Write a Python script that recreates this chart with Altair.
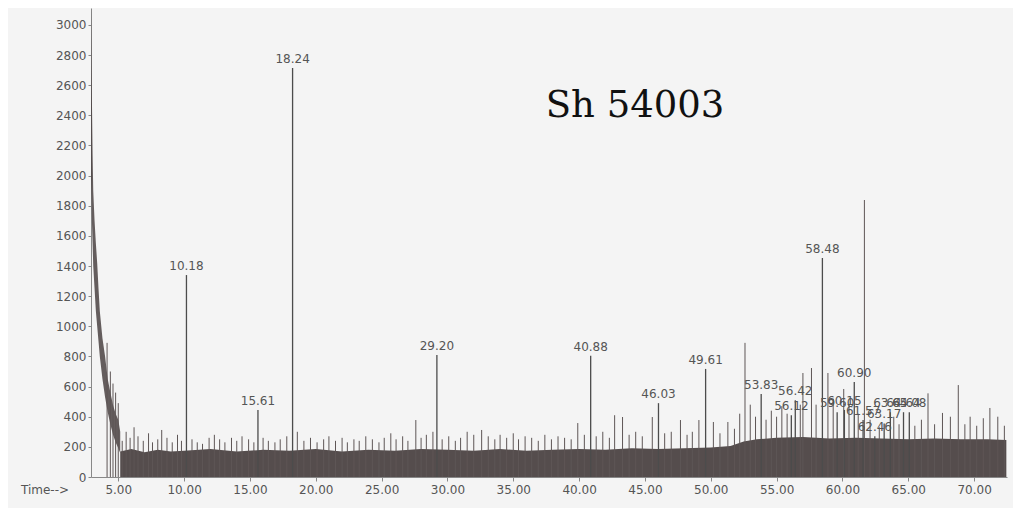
import altair as alt
import pandas as pd

# Labelled peaks (retention time, abundance)
peak_t = [10.18, 15.61, 18.24, 29.20, 40.88, 46.03, 49.61, 53.83, 56.12, 56.42,
          58.48, 59.60, 60.15, 60.90, 61.57, 62.46, 63.17, 63.64, 64.64, 65.08]
peak_h = [1340, 445, 2714, 810, 805, 490, 717, 550, 410, 510,
          1453, 430, 445, 630, 378, 270, 355, 430, 430, 430]
peak_lbl = ["10.18", "15.61", "18.24", "29.20", "40.88", "46.03", "49.61", "53.83", "56.12", "56.42",
            "58.48", "59.60", "60.15", "60.90", "61.57", "62.46", "63.17", "63.64", "64.64", "65.08"]

# Unlabelled spikes (estimated)
spike_t = [4.15, 4.4, 4.6, 4.8, 5.0, 5.3, 5.6, 5.9, 6.2, 6.5, 6.9, 7.3, 7.6, 8.0, 8.3, 8.7, 9.1, 9.5, 9.8,
           10.6, 11.0, 11.4, 11.9, 12.3, 12.7, 13.1, 13.6, 14.0, 14.4, 14.9, 15.3, 16.0, 16.4, 16.9,
           17.3, 17.8, 18.6, 19.1, 19.6, 20.1, 20.6, 21.0, 21.5, 22.0, 22.4, 22.9, 23.3, 23.8, 24.3,
           24.8, 25.2, 25.7, 26.1, 26.6, 27.0, 27.6, 28.0, 28.4, 28.9, 29.6, 30.1, 30.6, 31.0, 31.5,
           32.0, 32.6, 33.1, 33.6, 34.0, 34.5, 35.0, 35.4, 35.9, 36.4, 36.9, 37.4, 37.9, 38.4, 38.9,
           39.4, 39.9, 40.4, 41.3, 41.8, 42.3, 42.7, 43.3, 43.8, 44.3, 44.8, 45.56, 46.5, 47.0, 47.7,
           48.2, 48.6, 49.1, 50.2, 50.7, 51.3, 51.8, 52.2, 52.6, 53.0, 53.4, 54.2, 54.6, 55.0, 55.4,
           55.8, 56.8, 57.0, 57.65, 58.0, 58.9, 59.3, 60.1, 60.5, 61.2, 61.67, 62.1, 62.8, 63.9, 64.3,
           65.5, 66.0, 66.5, 67.0, 67.6, 68.2, 68.8, 69.3, 69.7, 70.2, 70.7, 71.2, 71.8, 72.3]
spike_h = [890, 700, 620, 560, 490, 240, 300, 260, 330, 270, 240, 290, 230, 250, 312, 260, 230, 280, 240,
           250, 230, 220, 260, 280, 250, 230, 260, 240, 270, 250, 230, 260, 240, 230,
           250, 270, 300, 240, 260, 230, 250, 270, 240, 260, 230, 250, 240, 270, 250,
           230, 260, 290, 250, 270, 240, 378, 260, 280, 300, 250, 270, 240, 260, 300,
           280, 312, 270, 250, 280, 260, 290, 250, 270, 260, 240, 280, 250, 270, 260,
           250, 358, 280, 270, 300, 260, 410, 398, 280, 300, 270, 398, 290, 300, 378,
           280, 300, 378, 365, 290, 365, 320, 420, 890, 480, 400, 380, 440, 400, 470,
           420, 480, 690, 723, 480, 690, 520, 584, 480, 420, 1838, 380, 330, 400, 350,
           340, 380, 555, 350, 425, 400, 610, 350, 400, 340, 390, 458, 400, 340]

# Dense noise band (upper envelope)
band_t = [5.15, 6.0, 7.0, 8.0, 9.0, 10.0, 12.0, 14.0, 16.0, 18.0, 20.0, 22.0, 24.0, 26.0, 28.0,
          30.0, 32.0, 34.0, 36.0, 38.0, 40.0, 42.0, 44.0, 46.0, 48.0, 50.0,
          51.5, 52.5, 53.5, 55.0, 57.0, 59.0, 61.0, 63.0, 65.0, 67.0, 69.0, 71.0, 72.45]
band_h = [170, 185, 165, 180, 170, 175, 185, 170, 180, 175, 185, 170, 180, 175, 185,
          180, 175, 185, 175, 180, 185, 180, 190, 185, 190, 195,
          205, 235, 250, 260, 265, 255, 260, 255, 250, 255, 250, 250, 245]

# Solvent front decay (lower / upper edge of the trace)
decay_t = [2.93, 3.0, 3.05, 3.1, 3.2, 3.3, 3.4, 3.5, 3.6, 3.8, 4.0, 4.2, 4.4, 4.6, 4.8, 5.0, 5.15]
decay_lo = [2000, 1700, 1550, 1400, 1250, 1100, 1000, 900, 800, 650, 530, 430, 350, 280, 230, 190, 160]
decay_hi = [3112, 2500, 2150, 1900, 1700, 1550, 1420, 1250, 1100, 920, 800, 650, 560, 480, 420, 380, 300]

peaks = pd.DataFrame({"t": peak_t, "h": peak_h, "lbl": peak_lbl})
spikes = pd.DataFrame({"t": spike_t, "h": spike_h})
band = pd.DataFrame({"t": band_t, "h": band_h})
decay = pd.DataFrame({"t": decay_t, "lo": decay_lo, "hi": decay_hi})

FONT = "DejaVu Sans"
x_scale = alt.Scale(domain=[2.93, 72.5], nice=False, zero=False)
y_scale = alt.Scale(domain=[0, 3112], nice=False)

x_axis = alt.Axis(values=[5, 10, 15, 20, 25, 30, 35, 40, 45, 50, 55, 60, 65, 70],
                  format=".2f", tickSize=4, labelPadding=3, title=None)
y_axis = alt.Axis(values=[0, 200, 400, 600, 800, 1000, 1200, 1400, 1600, 1800, 2000,
                          2200, 2400, 2600, 2800, 3000],
                  format="d", tickSize=3, labelPadding=2, title=None)


def X():
    return alt.X("t:Q", scale=x_scale, axis=x_axis)


def Y(field):
    return alt.Y(field, type="quantitative", scale=y_scale, axis=y_axis)


band_layer = alt.Chart(band).mark_area(color="#463e3e", opacity=0.92).encode(
    x=X(), y=Y("h"),
)

decay_layer = alt.Chart(decay).mark_area(color="#4a4242", opacity=0.85).encode(
    x=X(), y=Y("lo"), y2="hi:Q",
)

spike_layer = alt.Chart(spikes).mark_rule(color="#5e5656", strokeWidth=1).encode(
    x=X(), y=Y("h"), y2=alt.datum(0),
)

peak_layer = alt.Chart(peaks).mark_rule(color="#4c4c4c", strokeWidth=1.3).encode(
    x=X(), y=Y("h"), y2=alt.datum(0),
)

label_layer = alt.Chart(peaks).mark_text(font=FONT, fontSize=12, color="#555",
                                         baseline="bottom", dy=-2).encode(
    x=X(), y=Y("h"), text="lbl:N",
)

one = pd.DataFrame({"k": [0]})
title_layer = alt.Chart(one).mark_text(text="Sh 54003", font="DejaVu Serif", fontSize=37,
                                       color="#111", align="center", baseline="alphabetic").encode(
    x=alt.value(544), y=alt.value(109))

time_layer = alt.Chart(one).mark_text(text="Time-->", font=FONT, fontSize=12, color="#555",
                                      align="center", baseline="middle").encode(
    x=alt.value(-46), y=alt.value(482))

chart = alt.layer(band_layer, decay_layer, spike_layer, peak_layer, label_layer,
                  title_layer, time_layer).properties(
    width=916, height=469,
    autosize=alt.AutoSizeParams(type="none"),
    padding={"left": 83, "top": 0, "right": 6, "bottom": 31},
    background="#f4f4f4",
).configure_view(stroke=None).configure_axis(
    labelOverlap=False, labelFlush=False, grid=False, tickColor="#888", domainColor="#888",
    labelColor="#555", labelFont=FONT, labelFontSize=12,
)

chart.save("out.html", embed_options={"renderer": "svg", "actions": False})
